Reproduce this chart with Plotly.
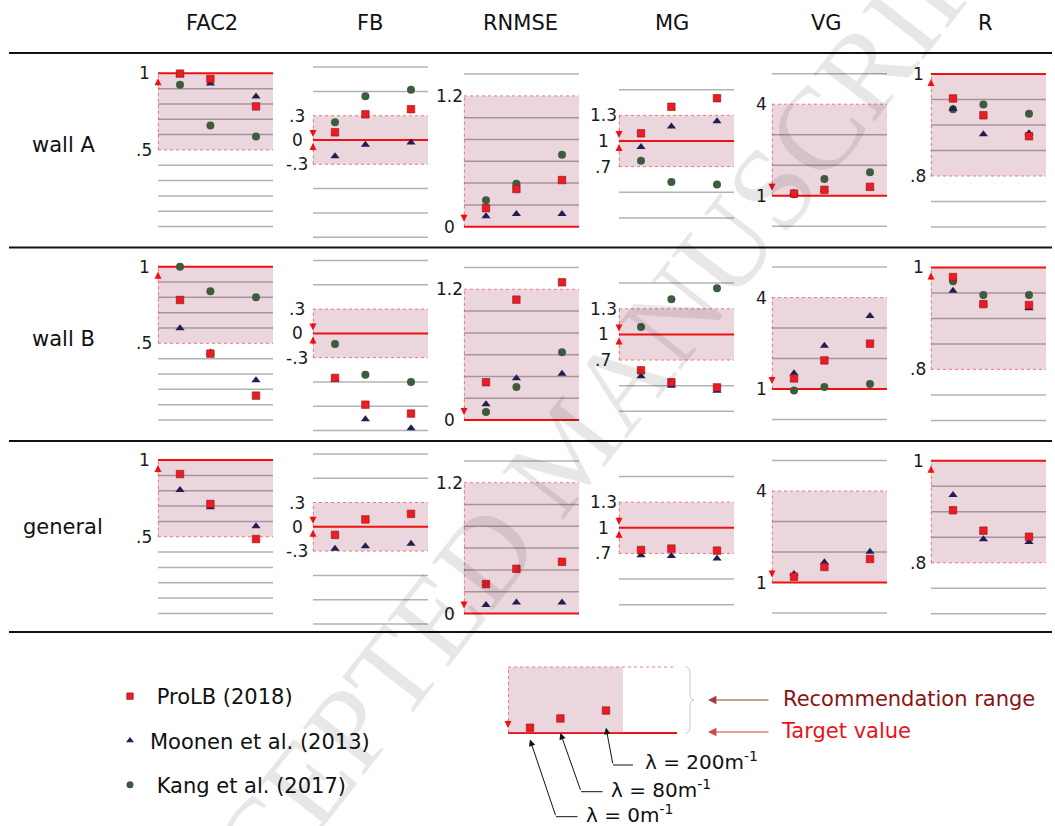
import plotly.graph_objects as go

W, H = 1055, 826

# ---------------- data ----------------
metrics = ["FAC2", "FB", "RNMSE", "MG", "VG", "R"]
cases = ["wall A", "wall B", "general"]
lambdas = [0, 80, 200]          # λ in m^-1
series_names = ["ProLB (2018)", "Moonen et al. (2013)", "Kang et al. (2017)"]

# rows: wall A, wall B, general ; entries: λ = 0, 80, 200
FAC2_prolb  = [[0.998, 0.963, 0.784], [0.783, 0.433, 0.159], [0.909, 0.714, 0.485]]
FAC2_moonen = [[0.99, 0.933, 0.848], [0.599, 0.44, 0.26], [0.805, 0.692, 0.568]]
FAC2_kang   = [[0.926, 0.66, 0.588], [1.0, 0.84, 0.80], None]

FB_prolb  = [[0.095, 0.317, 0.38], [-0.55, -0.88, -0.99], [-0.10, 0.091, 0.16]]
FB_moonen = [[-0.20, -0.058, -0.03], [-0.57, -1.06, -1.17], [-0.27, -0.24, -0.21]]
FB_kang   = [[0.218, 0.54, 0.62], [-0.13, -0.51, -0.60], None]

RNMSE_prolb  = [[0.17, 0.346, 0.428], [0.347, 1.105, 1.264], [0.27, 0.41, 0.474]]
RNMSE_moonen = [[0.095, 0.116, 0.116], [0.145, 0.383, 0.426], [0.077, 0.10, 0.10]]
RNMSE_kang   = [[0.242, 0.395, 0.66], [0.074, 0.304, 0.622], None]

MG_prolb  = [[1.09, 1.40, 1.50], [0.58, 0.44, 0.38], [0.74, 0.757, 0.733]]
MG_moonen = [[0.93, 1.17, 1.23], [0.51, 0.40, 0.34], [0.68, 0.67, 0.64]]
MG_kang   = [[0.77, 0.52, 0.49], [1.087, 1.41, 1.54], None]

VG_prolb  = [[1.07, 1.19, 1.29], [1.35, 1.94, 2.49], [1.19, 1.51, 1.77]]
VG_moonen = [[1.10, 1.19, 1.25], [1.52, 2.42, 3.40], [1.28, 1.66, 2.01]]
VG_kang   = [[1.05, 1.55, 1.77], [0.95, 1.07, 1.17], None]

R_prolb  = [[0.952, 0.919, 0.878], [0.981, 0.928, 0.926], [0.903, 0.863, 0.851]]
R_moonen = [[0.932, 0.882, 0.884], [0.954, 0.928, 0.920], [0.933, 0.846, 0.841]]
R_kang   = [[0.931, 0.940, 0.922], [0.973, 0.946, 0.946], None]

# target values and recommendation ranges
targets = {"FAC2": 1, "FB": 0, "RNMSE": 0, "MG": 1, "VG": 1, "R": 1}
rec_ranges = {"FAC2": [0.5, 1], "FB": [-0.3, 0.3], "RNMSE": [0, 1.2],
              "MG": [0.7, 1.3], "VG": [1, 4], "R": [0.8, 1]}
# y tick labels
tick_vals = {"FAC2": [1, 0.5], "FB": [0.3, 0, -0.3], "RNMSE": [1.2, 0],
             "MG": [1.3, 1, 0.7], "VG": [4, 1], "R": [1, 0.8]}
tick_text = {"FAC2": ["1", ".5"], "FB": [".3", "0", "-.3"], "RNMSE": ["1.2", "0"],
             "MG": ["1.3", "1", ".7"], "VG": ["4", "1"], "R": ["1", ".8"]}
# horizontal grid lines
grid_vals = {"FAC2": [0.9, 0.8, 0.7, 0.6, 0.4, 0.3, 0.2, 0.1, 0.0],
             "FB": [0.9, 0.6, -0.6, -0.9, -1.2],
             "RNMSE": [1.4, 1.0, 0.8, 0.6, 0.4, 0.2],
             "MG": [1.6, 0.4, 0.1],
             "VG": [5, 3, 2, 0],
             "R": [0.95, 0.9, 0.85, 0.75, 0.7]}
# schematic example (legend)
example_values = [0.08, 0.22, 0.34]
lambda_labels = ["λ = 0m<sup>-1</sup>", "λ = 80m<sup>-1</sup>", "λ = 200m<sup>-1</sup>"]

values = {
    "FAC2": [FAC2_prolb, FAC2_moonen, FAC2_kang],
    "FB": [FB_prolb, FB_moonen, FB_kang],
    "RNMSE": [RNMSE_prolb, RNMSE_moonen, RNMSE_kang],
    "MG": [MG_prolb, MG_moonen, MG_kang],
    "VG": [VG_prolb, VG_moonen, VG_kang],
    "R": [R_prolb, R_moonen, R_kang],
}

# ---------------- styling / geometry ----------------
FONT = "DejaVu Sans"
styles = [
    dict(symbol="square", size=7.5, color="#ec1c24", line=dict(width=0.6, color="#8b1010")),
    dict(symbol="triangle-up", size=8, color="#1f1f52", line=dict(width=0)),
    dict(symbol="circle", size=8, color="#3d5c3d", line=dict(width=0)),
]
legend_sizes = [6.5, 7, 7]
legend_pad = ["\u00a0", "", "\u00a0"]
draw_order = [2, 1, 0]  # Kang bottom, then Moonen, ProLB on top

col_left = [158, 313, 464, 619, 772, 931]
PW = 115
LAM0 = 22
PPL = 0.38
xr = [-LAM0 / PPL, (PW - LAM0) / PPL]
row_off = [0, 193.4, 386.8]
ROW_TOP, ROW_BOT = 56, 244
ymap = {"FAC2": (1, 73.3, 153.3), "FB": (0, 140, 81), "RNMSE": (0, 226.7, 109),
        "MG": (1, 141, 85.5), "VG": (1, 195.7, 30.5), "R": (1, 74, 510)}
arrow_kind = {"FAC2": "up", "FB": "both", "RNMSE": "down", "MG": "both", "VG": "down", "R": "up"}
label_cx = [144, 297, 449, 603, 761, 918]
header_cx = [212, 370, 520, 672, 826, 985]
row_label_y = [145, 339, 527]

PINK = "rgba(196,128,152,0.32)"
GRID = "rgba(0,0,0,0.30)"
DASH = "rgba(240,80,80,0.75)"
RED = "#ee1111"


def px(x):
    return x / W


def py(y):
    return 1 - y / H


fig = go.Figure()
layout = {}
shapes = []
annotations = []


def add_arrow(xa, ya, yv, kind, ax_ref_len=12):
    if kind == "up":
        dirs = [ax_ref_len + 2]
    elif kind == "down":
        dirs = [-(ax_ref_len + 2)]
    else:
        dirs = [-ax_ref_len, ax_ref_len]
    for d in dirs:
        annotations.append(dict(
            x=0, y=yv, xref=f"{xa} domain", yref=ya, text="", showarrow=True,
            ax=0, ay=d, arrowhead=2, arrowsize=1.4, arrowwidth=1,
            arrowcolor=RED, standoff=3 if kind == "both" else 5))


k = 0
for r, case in enumerate(cases):
    for c, m in enumerate(metrics):
        k += 1
        xa = "x" if k == 1 else f"x{k}"
        ya = "y" if k == 1 else f"y{k}"
        rv, rp, ppu = ymap[m]
        y_lo = rv + (rp - ROW_BOT) / ppu
        y_hi = rv + (rp - ROW_TOP) / ppu
        layout["xaxis" if k == 1 else f"xaxis{k}"] = dict(
            domain=[px(col_left[c]), px(col_left[c] + PW)], range=xr, visible=False,
            anchor=ya, fixedrange=True)
        layout["yaxis" if k == 1 else f"yaxis{k}"] = dict(
            domain=[py(ROW_BOT + row_off[r]), py(ROW_TOP + row_off[r])],
            range=[y_lo, y_hi], visible=False, anchor=xa, fixedrange=True)

        lo, hi = rec_ranges[m]
        tgt = targets[m]
        xd = f"{xa} domain"
        shapes.append(dict(type="rect", xref=xd, yref=ya, x0=0, x1=1, y0=lo, y1=hi,
                           fillcolor=PINK, line=dict(width=0), layer="below"))
        for g in grid_vals[m]:
            shapes.append(dict(type="line", xref=xd, yref=ya, x0=0, x1=1, y0=g, y1=g,
                               line=dict(color=GRID, width=1.5), layer="below"))
        for edge in (lo, hi):
            if edge != tgt:
                shapes.append(dict(type="line", xref=xd, yref=ya, x0=0, x1=1, y0=edge, y1=edge,
                                   line=dict(color=DASH, width=1, dash="dot"), layer="below"))
        shapes.append(dict(type="line", xref=xd, yref=ya, x0=0.003, x1=0.003, y0=lo, y1=hi,
                           line=dict(color=DASH, width=1, dash="dot"), layer="below"))
        shapes.append(dict(type="line", xref=xd, yref=ya, x0=0, x1=1, y0=tgt, y1=tgt,
                           line=dict(color=RED, width=2), layer="below"))
        add_arrow(xa, ya, tgt, arrow_kind[m])

        for tv, tt in zip(tick_vals[m], tick_text[m]):
            annotations.append(dict(x=px(label_cx[c]), y=tv, xref="paper", yref=ya, text=tt,
                                    showarrow=False, xanchor="center", yanchor="middle",
                                    font=dict(family=FONT, size=17, color="#1a1a1a")))

        for s in draw_order:
            vals = values[m][s][r]
            if vals is None:
                continue
            fig.add_trace(go.Scatter(x=lambdas, y=vals, mode="markers", xaxis=xa, yaxis=ya,
                                     marker=styles[s], showlegend=False, hoverinfo="skip",
                                     cliponaxis=False))

# legend entries
for s, name in enumerate(series_names):
    st = dict(styles[s])
    st["size"] = legend_sizes[s]
    fig.add_trace(go.Scatter(x=[None], y=[None], mode="markers", marker=st,
                             name=legend_pad[s] + name,
                             legendgroup=name, showlegend=True, xaxis="x", yaxis="y"))

# ---------------- schematic legend panel ----------------
k += 1
xs, ys = f"x{k}", f"y{k}"
S_L, S_R = 508, 677
S_TOP, S_BOT = 660, 740
S_T, S_PPU = 733, 66
layout[f"xaxis{k}"] = dict(domain=[px(S_L), px(S_R)], range=[xr[0], xr[0] + (S_R - S_L) / PPL],
                           visible=False, anchor=ys, fixedrange=True)
layout[f"yaxis{k}"] = dict(domain=[py(S_BOT), py(S_TOP)],
                           range=[(S_T - S_BOT) / S_PPU, (S_T - S_TOP) / S_PPU],
                           visible=False, anchor=xs, fixedrange=True)
sd = f"{xs} domain"
shapes.append(dict(type="rect", xref=xs, yref=ys, x0=xr[0], x1=xr[1], y0=0, y1=1,
                   fillcolor=PINK, line=dict(width=0), layer="below"))
shapes.append(dict(type="line", xref=sd, yref=ys, x0=0, x1=0.985, y0=1, y1=1,
                   line=dict(color=DASH, width=1, dash="dot"), layer="below"))
shapes.append(dict(type="line", xref=sd, yref=ys, x0=0.003, x1=0.003, y0=0, y1=1,
                   line=dict(color=DASH, width=1, dash="dot"), layer="below"))
shapes.append(dict(type="line", xref=sd, yref=ys, x0=0, x1=1, y0=0, y1=0,
                   line=dict(color=RED, width=2), layer="below"))
add_arrow(xs, ys, 0, "down")
fig.add_trace(go.Scatter(x=lambdas, y=example_values, mode="markers", xaxis=xs, yaxis=ys,
                         marker=dict(symbol="square", size=7.5, color="#ec1c24",
                                     line=dict(width=0.6, color="#8b1010")),
                         showlegend=False, hoverinfo="skip", cliponaxis=False))

# leader arrows to λ positions
head_y = [-0.1, 0.0, 0.08]
tails = [(26, 77), (20.6, 58.4), (7, 37)]
bends = [(556, 816.7), (581, 791.7), (613, 765)]
seg_end = [577.5, 602.5, 633]
text_pos = [(584, 814), (609, 789), (643, 761)]
for i, lam in enumerate(lambdas):
    annotations.append(dict(x=lam, y=head_y[i], xref=xs, yref=ys, text="", showarrow=True,
                            ax=tails[i][0], ay=tails[i][1], arrowhead=2, arrowsize=1.3,
                            arrowwidth=1, arrowcolor="#111111"))
    shapes.append(dict(type="line", xref="paper", yref="paper",
                       x0=px(bends[i][0]), x1=px(seg_end[i]), y0=py(bends[i][1]), y1=py(bends[i][1]),
                       line=dict(color="#111111", width=1)))
    annotations.append(dict(x=px(text_pos[i][0]), y=py(text_pos[i][1]), xref="paper", yref="paper",
                            text=lambda_labels[i], showarrow=False, xanchor="left", yanchor="middle",
                            font=dict(family=FONT, size=20, color="#111111")))

# brace
bp = (f"M {px(686)},{py(667)} Q {px(690)},{py(667)} {px(690)},{py(674)} "
      f"L {px(690)},{py(693)} Q {px(690)},{py(700)} {px(694)},{py(700)} "
      f"Q {px(690)},{py(700)} {px(690)},{py(707)} L {px(690)},{py(726)} "
      f"Q {px(690)},{py(733)} {px(686)},{py(733)}")
shapes.append(dict(type="path", path=bp, xref="paper", yref="paper",
                   line=dict(color="#c8c8c8", width=1)))

# recommendation / target annotations
for yy, txt, tcol, acol, tx in [(700, "Recommendation range", "#8b1414", "#a33a3a", 781),
                               (732, "Target value", "#e8141a", "#d04848", 779)]:
    annotations.append(dict(x=px(708), y=py(yy), xref="paper", yref="paper", text="",
                            showarrow=True, ax=62, ay=0, arrowhead=2, arrowsize=1.4,
                            arrowwidth=1.2, arrowcolor=acol))
    annotations.append(dict(x=px(tx), y=py(yy - 1), xref="paper", yref="paper", text=txt,
                            showarrow=False, xanchor="left", yanchor="middle",
                            font=dict(family=FONT, size=21, color=tcol)))

# headers and row labels
for c, m in enumerate(metrics):
    annotations.append(dict(x=px(header_cx[c]), y=py(23), xref="paper", yref="paper", text=m,
                            showarrow=False, xanchor="center", yanchor="middle",
                            font=dict(family=FONT, size=21, color="#111111")))
for r, case in enumerate(cases):
    annotations.append(dict(x=px(63), y=py(row_label_y[r]), xref="paper", yref="paper", text=case,
                            showarrow=False, xanchor="center", yanchor="middle",
                            font=dict(family=FONT, size=21, color="#111111")))

# separator lines
for yy in [53, 247.5, 441, 632]:
    shapes.append(dict(type="line", xref="paper", yref="paper", x0=px(9), x1=px(1052),
                       y0=py(yy), y1=py(yy), line=dict(color="#111111", width=2)))

# watermark
annotations.append(dict(x=px(567), y=py(450), xref="paper", yref="paper",
                        text="ACCEPTED MANUSCRIPT", showarrow=False, textangle=-52,
                        font=dict(family="Liberation Serif", size=118, color="rgba(0,0,0,0.095)")))

fig.update_layout(
    **layout,
    width=W, height=H, autosize=False,
    margin=dict(l=0, r=0, t=0, b=0),
    paper_bgcolor="white", plot_bgcolor="rgba(0,0,0,0)",
    shapes=shapes, annotations=annotations,
    showlegend=True,
    legend=dict(x=px(110), y=py(676), xanchor="left", yanchor="top",
                traceorder="grouped", tracegroupgap=14,
                font=dict(family=FONT, size=21, color="#111111"),
                bgcolor="rgba(0,0,0,0)", itemsizing="trace"),
    font=dict(family=FONT),
)

fig.write_html("out.html", config={"displayModeBar": False, "staticPlot": True},
               post_script="document.body.style.margin='0';document.body.style.overflow='hidden';")
